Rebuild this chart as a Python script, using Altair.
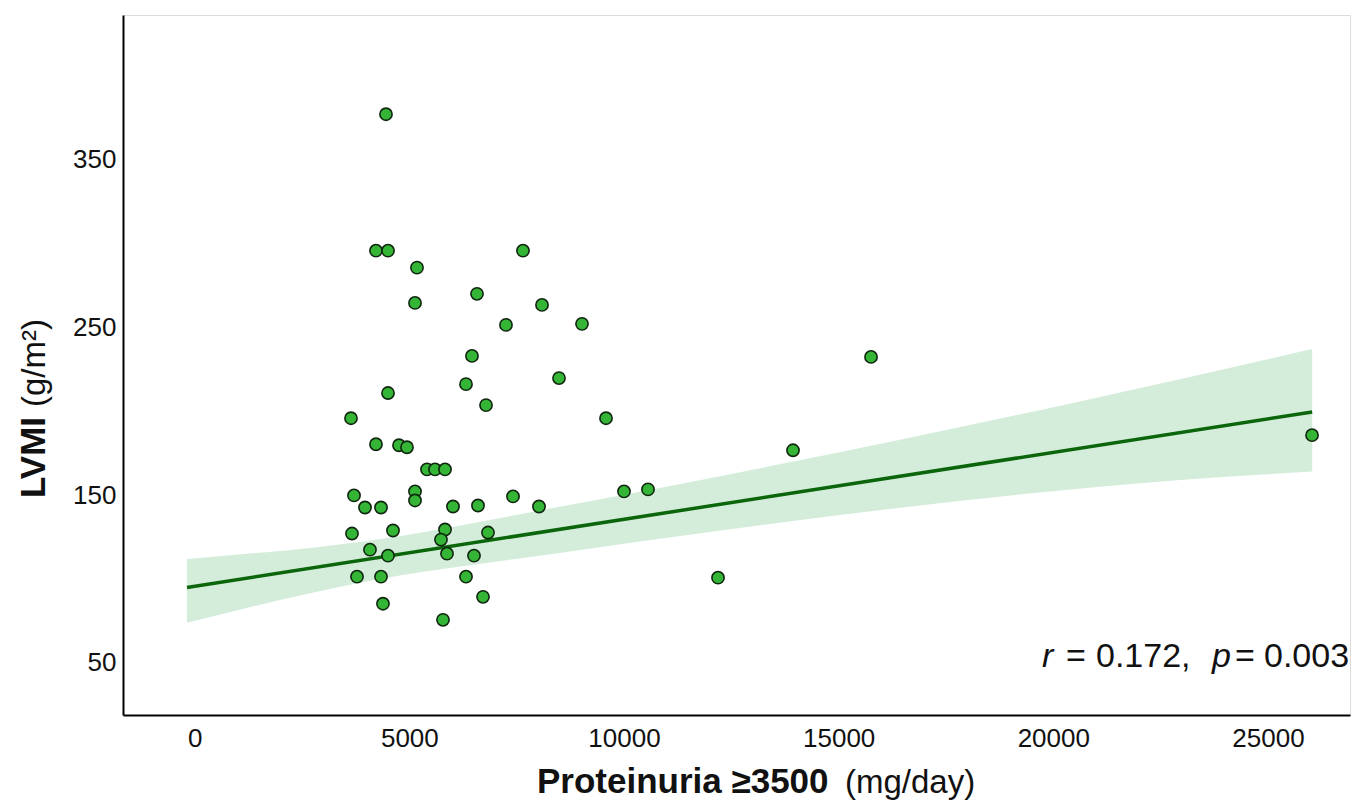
import altair as alt
import pandas as pd

# ---- data ----
prot = [4456, 4223, 4503, 5178, 5132, 7647, 6576, 8090, 7251, 9022,
        6459, 8486, 6320, 4503, 6786, 3641, 9581, 4223, 4759, 4945,
        5411, 5598, 5831, 3711, 3967, 4340, 5132, 5132, 6017, 6599,
        7415, 8020, 3664, 4619, 5831, 5737, 6832, 4083, 4503, 5877,
        6506, 3781, 4340, 6320, 4386, 6716, 5784, 10000, 10559, 12190,
        13937, 15754, 26027]
lvmi = [376.9, 295.6, 295.6, 285.5, 264.5, 295.6, 269.9, 263.3, 251.4, 252.0,
        232.9, 219.7, 216.1, 210.8, 203.6, 195.8, 195.8, 180.3, 179.7, 178.5,
        165.3, 165.3, 165.3, 149.8, 142.6, 142.6, 152.2, 146.8, 143.2, 143.8,
        149.2, 143.2, 127.1, 128.9, 129.5, 123.5, 127.7, 117.5, 113.9, 115.1,
        113.9, 101.4, 101.4, 101.4, 85.3, 89.4, 75.7, 152.2, 153.4, 100.8,
        176.7, 232.3, 185.7]

fit_x = [-180, 26030]
fit_y = [95.0, 199.5]

band_x = [-180, 4100, 8500, 13170, 16430, 21090, 22950, 26030]
band_lo = [74, 99, 115.5, 132, 142.5, 155, 159, 164]
band_hi = [112, 123, 143, 166, 183, 208.5, 219, 237]

x_ticks = [0, 5000, 10000, 15000, 20000, 25000]
y_ticks = [50, 150, 250, 350]

FONT = "Liberation Sans"

pts = pd.DataFrame({"prot": prot, "lvmi": lvmi})
fit = pd.DataFrame({"prot": fit_x, "lvmi": fit_y})
band = pd.DataFrame({"prot": band_x, "lo": band_lo, "hi": band_hi})

xscale = alt.Scale(domain=[-1670, 26911], nice=False, zero=False)
yscale = alt.Scale(domain=[19, 436], nice=False, zero=False)
xaxis = alt.Axis(values=x_ticks, format="d", title=None, ticks=False, grid=False,
                 labelPadding=10, labelFontSize=26, labelFont=FONT, labelColor="#111",
                 domainColor="#000", domainWidth=2)
yaxis = alt.Axis(values=y_ticks, format="d", title=None, ticks=False, grid=False,
                 labelPadding=7, labelFontSize=26, labelFont=FONT, labelColor="#111",
                 domainColor="#000", domainWidth=2)


def X(field="prot"):
    return alt.X(f"{field}:Q", scale=xscale, axis=xaxis)


def Y(field="lvmi"):
    return alt.Y(f"{field}:Q", scale=yscale, axis=yaxis)


band_layer = alt.Chart(band).mark_area(color="#9fd8ae", opacity=0.45,
                                       interpolate="monotone").encode(
    x=X(), y=Y("lo"), y2="hi:Q")

line_layer = alt.Chart(fit).mark_line(color="#0b650b", strokeWidth=3.5).encode(
    x=X(), y=Y())

point_layer = alt.Chart(pts).mark_point(
    filled=True, shape="circle", size=150, fill="#35b535", stroke="#0f260f",
    strokeWidth=1.6, opacity=1).encode(x=X(), y=Y())


def txt(s, x, y, size, weight="normal", style="normal", angle=0, align="left"):
    return alt.Chart(pd.DataFrame({"t": [s]})).mark_text(
        font=FONT, fontSize=size, fontWeight=weight, fontStyle=style,
        angle=angle, align=align, baseline="alphabetic", color="#111"
    ).encode(x=alt.value(x), y=alt.value(y), text="t:N")


labels = [
    # y title
    txt("LVMI", -78, 483, 35, weight="bold", angle=270),
    txt("(g/m²)", -78, 392, 33, angle=270),
    # x title
    txt("Proteinuria ≥3500", 414, 778, 35, weight="bold"),
    txt("(mg/day)", 722, 778, 33),
    # annotation
    txt("r", 919, 652, 34, style="italic"),
    txt("=", 943, 652, 34),
    txt("0.172,", 973, 652, 34),
    txt("p", 1089, 652, 34, style="italic"),
    txt("=", 1112, 652, 34),
    txt("0.003", 1141, 652, 34),
]

chart = alt.layer(band_layer, line_layer, point_layer, *labels).properties(
    width=1227, height=700,
    autosize=alt.AutoSizeParams(type="none"),
    padding={"left": 115, "top": 7, "right": 10, "bottom": 89},
).configure_view(stroke=None).configure(background="white")

chart.save("out.html", embed_options={"renderer": "svg", "actions": False})
